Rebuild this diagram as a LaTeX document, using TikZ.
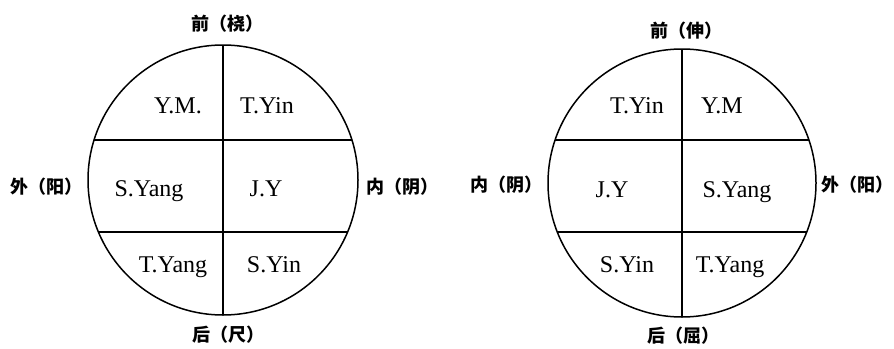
\documentclass[tikz,border=0pt]{standalone}
\usepackage{fontspec}
\setmainfont{Liberation Serif}
\newfontfamily\cjk{Noto Sans CJK SC}
\usetikzlibrary{positioning}

\begin{document}
\begin{tikzpicture}[
  x=1pt, y=-1pt,
  ring/.style={draw, circle, line width=1.5pt, inner sep=0pt},
  cell/.style={anchor=base, inner sep=0pt, font=\fontsize{24}{24}\selectfont},
  dir/.style={inner sep=0pt, font=\cjk\bfseries\fontsize{18}{18}\selectfont},
  line width=1.4pt
]
  \useasboundingbox (0,0) rectangle (894,348);
  % left circle
  \node[ring, minimum size=270pt] (lc) at (223,180) {};
  \begin{scope}
    \clip (lc.center) circle[radius=135pt];
    \draw (lc.north) -- (lc.south);
    \draw (80,140) -- (370,140);
    \draw (80,232) -- (370,232);
  \end{scope}
  \node[cell] (lym) at (178,113) {Y.M.};
  \node[cell] (lty) at (267,113) {T.Yin};
  \node[cell] (lsy) at (149,196) {S.Yang};
  \node[cell] (ljy) at (266,196) {J.Y};
  \node[cell] (ltg) at (173,272) {T.Yang};
  \node[cell] (lsn) at (274,272) {S.Yin};
  \node[dir] (lfront) at (227,24) {前（桡）};
  \node[dir] (lout) at (46,187) {外（阳）};
  \node[dir] (lin) at (402,187) {内（阴）};
  \node[dir] (lback) at (228,335) {后（尺）};
  % right circle
  \node[ring, minimum size=268pt] (rc) at (682,183) {};
  \begin{scope}
    \clip (rc.center) circle[radius=134pt];
    \draw (rc.north) -- (rc.south);
    \draw (540,140) -- (830,140);
    \draw (540,232) -- (830,232);
  \end{scope}
  \node[cell] (rty) at (637,113) {T.Yin};
  \node[cell] (rym) at (722,113) {Y.M};
  \node[cell] (rjy) at (612,197) {J.Y};
  \node[cell] (rsy) at (737,197) {S.Yang};
  \node[cell] (rsn) at (627,272) {S.Yin};
  \node[cell] (rtg) at (730,272) {T.Yang};
  \node[dir] (rfront) at (686,31) {前（伸）};
  \node[dir] (rin) at (506,185) {内（阴）};
  \node[dir] (rout) at (857,185) {外（阳）};
  \node[dir] (rback) at (683,336) {后（屈）};
\end{tikzpicture}
\end{document}
